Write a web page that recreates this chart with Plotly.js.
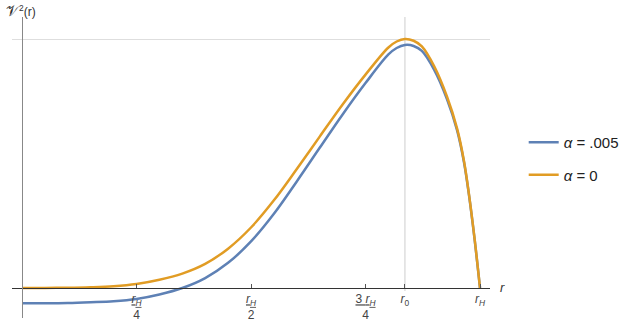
<!DOCTYPE html>
<html>
<head>
<meta charset="utf-8">
<script src="https://cdn.plot.ly/plotly-3.0.1.min.js"></script>
<style>
  body { margin: 0; background: #fff; }
  #plot { width: 642px; height: 321px; }
</style>
</head>
<body>
<div id="plot"></div>
<script>
// r in units of r_H, V^2 normalised to the alpha = 0 peak
const rAlpha0 = [0, 0.05, 0.1, 0.15, 0.2, 0.25, 0.3, 0.35, 0.4, 0.45, 0.5, 0.55, 0.6, 0.65, 0.7, 0.75, 0.8, 0.818, 0.836, 0.855, 0.873, 0.9, 0.928, 0.95, 0.965, 0.976, 0.988, 1.0];
const vAlpha0 = [0, 0.0003, 0.001, 0.003, 0.007, 0.016, 0.033, 0.058, 0.097, 0.158, 0.243, 0.352, 0.478, 0.608, 0.737, 0.857, 0.966, 0.99, 1.0, 0.993, 0.97, 0.89, 0.768, 0.64, 0.51, 0.375, 0.2, 0];

const rAlpha005 = [0, 0.05, 0.1, 0.15, 0.2, 0.25, 0.3, 0.35, 0.4, 0.45, 0.5, 0.55, 0.6, 0.65, 0.7, 0.75, 0.8, 0.818, 0.836, 0.855, 0.873, 0.9, 0.928, 0.95, 0.965, 0.976, 0.988, 1.0];
const vAlpha005 = [-0.061, -0.061, -0.06, -0.057, -0.053, -0.044, -0.026, 0.0, 0.04, 0.101, 0.187, 0.298, 0.428, 0.563, 0.697, 0.823, 0.938, 0.964, 0.976, 0.972, 0.952, 0.876, 0.758, 0.633, 0.505, 0.372, 0.198, 0];

const tickVals = [0.25, 0.5, 0.75, 0.836, 1.0];
const tickText = [
    "<u><i>r</i><sub><i>H</i></sub></u><br>4",
    "<u><i>r</i><sub><i>H</i></sub></u><br>2",
    "<u>3 <i>r</i><sub><i>H</i></sub></u><br>4",
    "<i>r</i><sub>0</sub>",
    "<i>r</i><sub><i>H</i></sub>"
];
const r0 = 0.836;
const peak = 1.0;

const blueTrace = {
    x: rAlpha005,
    y: vAlpha005,
    type: "scatter",
    mode: "lines",
    name: "<i>α</i> = .005",
    legendgroup: "a1",
    line: { color: "#5e81b5", width: 2.5, shape: "spline", smoothing: 1 },
    cliponaxis: false,
};

const orangeTrace = {
    x: rAlpha0,
    y: vAlpha0,
    type: "scatter",
    mode: "lines",
    name: "<i>α</i> = 0",
    legendgroup: "a0",
    line: { color: "#e19c24", width: 2.5, shape: "spline", smoothing: 1 },
    cliponaxis: false,
};

const layout = {
    width: 642,
    height: 321,
    margin: { l: 12, r: 152, t: 17, b: 3 },
    paper_bgcolor: "#ffffff",
    plot_bgcolor: "#ffffff",
    font: { family: "Liberation Sans, Arial, sans-serif", size: 11, color: "#444" },
    showlegend: true,
    legend: {
        x: 1.0705, xanchor: "left",
        y: 0.53, yanchor: "middle",
        font: { size: 15, color: "#222" },
        itemwidth: 30,
        tracegroupgap: 10,
    },
    xaxis: {
        range: [-0.0218, 1.0218],
        anchor: "free",
        position: 0.0997,
        showline: true,
        linecolor: "#333",
        linewidth: 1,
        zeroline: false,
        showgrid: false,
        tickmode: "array",
        tickvals: tickVals,
        ticktext: tickText,
        ticks: "inside",
        ticklen: 4,
        tickcolor: "#555",
        tickfont: { size: 12, color: "#444" },
    },
    yaxis: {
        range: [-0.1205, 1.0884],
        anchor: "free",
        position: 0.0209,
        showline: true,
        linecolor: "#888",
        linewidth: 1,
        zeroline: false,
        tickmode: "array",
        tickvals: [peak],
        showticklabels: false,
        ticks: "",
        showgrid: true,
        gridcolor: "#dedede",
    },
    shapes: [
        {
            type: "line", xref: "x", yref: "paper",
            x0: r0, x1: r0, y0: 0.09, y1: 1.0,
            line: { color: "#dedede", width: 1.5 },
            layer: "below",
        },
    ],
    annotations: [
        {
            text: "<span style='font-size:15px'>𝒱</span><sup>2</sup>(r)",
            xref: "paper", yref: "paper",
            x: -0.0167, y: 1.056, xanchor: "left", yanchor: "top",
            showarrow: false,
            font: { size: 12, color: "#333" },
        },
        {
            text: "<i>r</i>",
            xref: "paper", yref: "paper",
            x: 1.027, y: 0.0997, xanchor: "center", yanchor: "middle",
            showarrow: false,
            font: { size: 13, color: "#333" },
        },
    ],
};

Plotly.newPlot("plot", [blueTrace, orangeTrace], layout, { displayModeBar: false, staticPlot: true });
</script>
</body>
</html>
